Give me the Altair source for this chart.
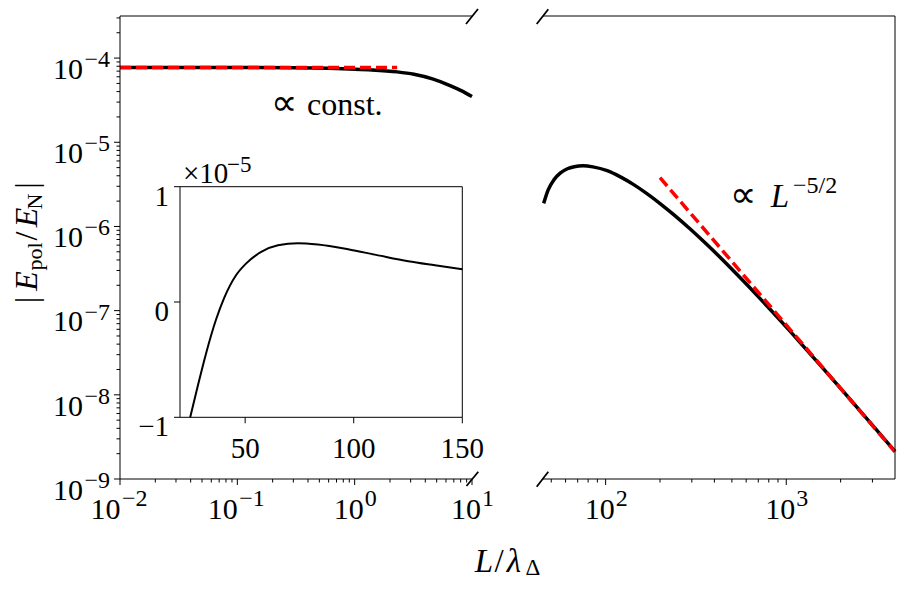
import altair as alt
import pandas as pd

FONT = "Liberation Serif"

# ---------------- data ----------------
# left panel: |E_pol/E_N| vs L/lambda for small L
left_L = [0.01, 0.03, 0.1, 0.3, 0.6, 0.9, 1.4, 2.3, 3.2, 4.6, 6.5, 8.0, 10.0]
left_E = [7.74e-5, 7.74e-5, 7.72e-5, 7.67e-5, 7.56e-5, 7.42e-5, 7.24e-5,
          6.86e-5, 6.42e-5, 5.66e-5, 4.72e-5, 4.14e-5, 3.50e-5]
left_fit_L = [0.01, 2.3]
left_fit_E = [7.74e-5, 7.74e-5]

# right panel: large L
right_L = [45.4, 48, 51.8, 56, 61.4, 67, 75, 85, 102, 120, 143, 170, 201, 240,
           295, 360, 451, 560, 689, 850, 1052, 1300, 1607, 2000, 2459, 3100, 4000]
right_E = [1.88e-6, 2.7e-6, 3.6e-6, 4.3e-6, 4.85e-6, 5.12e-6, 5.25e-6, 5.1e-6,
           4.6e-6, 3.91e-6, 3.14e-6, 2.44e-6, 1.86e-6, 1.363e-6, 9.25e-7, 6.22e-7,
           3.89e-7, 2.42e-7, 1.52e-7, 9.36e-8, 5.66e-8, 3.40e-8, 2.03e-8, 1.19e-8,
           7.14e-9, 4.02e-9, 2.13e-9]
right_fit_L = [200, 4000]
right_fit_E = [3.8e-6, 2.1e-9]

# inset: signed E_pol/E_N (linear)
inset_L = [24.7, 28.1, 32.0, 36.6, 40.4, 45.8, 50.5, 57.4, 65.1, 74.3, 83.5,
           97.4, 109.7, 125.1, 137.4, 150.0]
inset_E = [-1.0e-5, -0.735e-5, -0.446e-5, -0.152e-5, 0.038e-5, 0.232e-5,
           0.335e-5, 0.435e-5, 0.493e-5, 0.510e-5, 0.498e-5, 0.457e-5,
           0.411e-5, 0.353e-5, 0.318e-5, 0.284e-5]

# axes: domains, ticks, tick labels
left_xdomain = [0.01, 10]
right_xdomain = [45, 4000]
y_domain = [1e-9, 10 ** -3.5]
inset_xdomain = [20, 150]
inset_ydomain = [-1e-5, 1e-5]

left_xticks = [0.01, 0.1, 1, 10]
left_xexp = ["\u22122", "\u22121", "0", "1"]
right_xticks = [100, 1000]
right_xexp = ["2", "3"]
y_ticks = [1e-9, 1e-8, 1e-7, 1e-6, 1e-5, 1e-4]
y_exp = ["\u22129", "\u22128", "\u22127", "\u22126", "\u22125", "\u22124"]
inset_xticks = [50, 100, 150]
inset_xlabels = ["50", "100", "150"]
inset_yticks = [-1e-5, 0, 1e-5]
inset_ylabels = ["\u22121", "0", "1"]

left_xminor = [m * 10.0 ** e for e in (-2, -1, 0) for m in range(2, 10)]
right_xminor = [50, 60, 70, 80, 90] + [m * 100 for m in range(2, 10)] + [2000, 3000]
y_minor = [m * 10.0 ** e for e in range(-9, -4) for m in range(2, 10)] + [2e-4, 3e-4]

# ---------------- layout ----------------
W, H = 775, 463
PW = 352           # width of each panel
RX0 = 423          # right panel start
IX0, IX1 = 60, 342.3      # inset left/right (px)
IY0, IY1 = 401.3, 170.7   # inset bottom/top (px)

left_x = alt.Scale(type="log", domain=left_xdomain, range=[0, PW], nice=False)
right_x = alt.Scale(type="log", domain=right_xdomain, range=[RX0, W], nice=False)
y_main = alt.Scale(type="log", domain=y_domain, nice=False)
inset_x = alt.Scale(domain=inset_xdomain, range=[IX0, IX1], nice=False, zero=False)
inset_y = alt.Scale(domain=inset_ydomain, range=[IY0, IY1], nice=False, zero=False)

one = pd.DataFrame({"a": [0]})


def txt(s, x, y, size=30, italic=False, angle=0, align="left", baseline="alphabetic"):
    return alt.Chart(one).mark_text(
        text=s, font=FONT, fontSize=size, fontStyle="italic" if italic else "normal",
        angle=angle, align=align, baseline=baseline, color="black"
    ).encode(x=alt.value(x), y=alt.value(y))


def rule(x, x2, y, y2, w=1.0):
    return alt.Chart(one).mark_rule(color="black", strokeWidth=w).encode(
        x=alt.value(x), x2=alt.value(x2), y=alt.value(y), y2=alt.value(y2))


def xticks(values, scale, length):
    return alt.Chart(pd.DataFrame({"v": values})).mark_rule(color="black", strokeWidth=1).encode(
        x=alt.X("v:Q", scale=scale, axis=None), y=alt.value(H), y2=alt.value(H + length))


def yticks(values, scale, length):
    return alt.Chart(pd.DataFrame({"v": values})).mark_rule(color="black", strokeWidth=1).encode(
        y=alt.Y("v:Q", scale=scale, axis=None), x=alt.value(0), x2=alt.value(-length))


def xlabels(values, exps, scale):
    """'10' + superscript exponent, centred under each tick"""
    df = pd.DataFrame({"v": values, "e": exps})
    out = []
    for neg, d10, dsup in ((True, 0.5, 2.0), (False, 9, 10)):
        flt = "datum.v < 1" if neg else "datum.v >= 1"
        base = alt.Chart(df).transform_filter(flt).mark_text(
            text="10", font=FONT, fontSize=30, align="right", dx=d10, color="black"
        ).encode(x=alt.X("v:Q", scale=scale, axis=None), y=alt.value(H + 31))
        sup = alt.Chart(df).transform_filter(flt).mark_text(
            font=FONT, fontSize=24, align="left", dx=dsup, color="black"
        ).encode(x=alt.X("v:Q", scale=scale, axis=None), y=alt.value(H + 20), text="e:N")
        out += [base, sup]
    return out


def ylabels(values, exps, scale):
    df = pd.DataFrame({"v": values, "e": exps})
    base = alt.Chart(df).mark_text(
        text="10", font=FONT, fontSize=30, align="right", dy=11.7, color="black"
    ).encode(y=alt.Y("v:Q", scale=scale, axis=None), x=alt.value(-37))
    sup = alt.Chart(df).mark_text(
        font=FONT, fontSize=24, align="right", dy=2, color="black"
    ).encode(y=alt.Y("v:Q", scale=scale, axis=None), x=alt.value(-10), text="e:N")
    return [base, sup]


# ---------------- left panel ----------------
df_left = pd.DataFrame({"L": left_L, "E": left_E})
df_left_fit = pd.DataFrame({"L": left_fit_L, "E": left_fit_E})
left_curve = alt.Chart(df_left).mark_line(
    color="black", strokeWidth=3.5, interpolate="monotone", strokeCap="butt"
).encode(x=alt.X("L:Q", scale=left_x, axis=None),
         y=alt.Y("E:Q", scale=y_main, axis=None))
left_fit = alt.Chart(df_left_fit).mark_line(
    color="#ff0000", strokeWidth=3.5, strokeDash=[11, 5]
).encode(x=alt.X("L:Q", scale=left_x, axis=None),
         y=alt.Y("E:Q", scale=y_main, axis=None))
left_group = alt.layer(
    left_curve, left_fit,
    xticks(left_xticks, left_x, 6), xticks(left_xminor, left_x, 3.5),
    yticks(y_ticks, y_main, 6), yticks(y_minor, y_main, 3.5),
    *xlabels(left_xticks, left_xexp, left_x),
    *ylabels(y_ticks, y_exp, y_main),
)

# ---------------- right panel ----------------
df_right = pd.DataFrame({"L": right_L, "E": right_E})
df_right_fit = pd.DataFrame({"L": right_fit_L, "E": right_fit_E})
right_curve = alt.Chart(df_right).mark_line(
    color="black", strokeWidth=3.5, interpolate="monotone", strokeCap="butt"
).encode(x=alt.X("L:Q", scale=right_x, axis=None),
         y=alt.Y("E:Q", scale=y_main, axis=None))
right_fit = alt.Chart(df_right_fit).mark_line(
    color="#ff0000", strokeWidth=3.5, strokeDash=[11, 5]
).encode(x=alt.X("L:Q", scale=right_x, axis=None),
         y=alt.Y("E:Q", scale=y_main, axis=None))
right_group = alt.layer(
    right_curve, right_fit,
    xticks(right_xticks, right_x, 6), xticks(right_xminor, right_x, 3.5),
    *xlabels(right_xticks, right_xexp, right_x),
)

# ---------------- inset ----------------
df_frame = pd.DataFrame({"x0": [inset_xdomain[0]], "x1": [inset_xdomain[1]],
                         "y0": [inset_ydomain[0]], "y1": [inset_ydomain[1]]})
inset_frame = alt.Chart(df_frame).mark_rect(fill="white", stroke="black", strokeWidth=1).encode(
    x=alt.X("x0:Q", scale=inset_x, axis=None), x2="x1:Q",
    y=alt.Y("y0:Q", scale=inset_y, axis=None), y2="y1:Q")
df_inset = pd.DataFrame({"L": inset_L, "E": inset_E})
inset_curve = alt.Chart(df_inset).mark_line(
    color="black", strokeWidth=2, interpolate="monotone"
).encode(x=alt.X("L:Q", scale=inset_x, axis=None),
         y=alt.Y("E:Q", scale=inset_y, axis=None))
df_ix = pd.DataFrame({"v": inset_xticks, "t": inset_xlabels})
df_iy = pd.DataFrame({"v": inset_yticks, "t": inset_ylabels})
inset_xt = alt.Chart(df_ix).mark_rule(color="black", strokeWidth=1).encode(
    x=alt.X("v:Q", scale=inset_x, axis=None), y=alt.value(IY0), y2=alt.value(IY0 + 6))
inset_yt = alt.Chart(df_iy).mark_rule(color="black", strokeWidth=1).encode(
    y=alt.Y("v:Q", scale=inset_y, axis=None), x=alt.value(IX0), x2=alt.value(IX0 - 6))
inset_xl = alt.Chart(df_ix).mark_text(font=FONT, fontSize=29, align="center", color="black").encode(
    x=alt.X("v:Q", scale=inset_x, axis=None), y=alt.value(IY0 + 32), text="t:N")
inset_yl = alt.Chart(df_iy).mark_text(font=FONT, fontSize=29, align="right", dy=10, color="black").encode(
    y=alt.Y("v:Q", scale=inset_y, axis=None), x=alt.value(IX0 - 11), text="t:N")
inset_group = alt.layer(inset_frame, inset_curve, inset_xt, inset_yt, inset_xl, inset_yl)

# ---------------- spines and break marks ----------------
decor = [
    rule(0, 0, 0, H),                  # left panel: left spine
    rule(0, PW, H, H),                 # left panel: bottom spine
    rule(0, PW, 0, 0),                 # left panel: top spine
    rule(RX0, W, H, H),                # right panel: bottom spine
    rule(RX0, W, 0, 0),                # right panel: top spine
    rule(W, W, 0, H),                  # right panel: right spine
    rule(346, 358, 8, -7, 1.8),        # break marks
    rule(346.5, 358.3, 470, 455.7, 1.8),
    rule(416.7, 428.3, 8, -6.7, 1.8),
    rule(416.7, 428.3, 470.7, 455.7, 1.8),
]

# ---------------- annotations and titles ----------------
texts = [
    txt("\u221d", 164, 99, size=37, align="center"),
    txt("const.", 187, 99, size=32),
    txt("\u221d", 622.5, 191, size=37, align="center"),
    txt("L", 660, 191, size=33, italic=True, align="center"),
    txt("\u22125/2", 673, 177, size=24),
    txt("\u00d710", 63, 167, size=29),
    txt("\u22125", 107, 156, size=23),
    # x title  L / lambda_Delta
    txt("L", 364, 556, size=33, italic=True, align="center"),
    txt("/", 379, 556, size=33, align="center"),
    txt("\u03bb", 394, 556, size=33, italic=True, align="center"),
    txt("\u0394", 413, 559, size=23, align="center"),
    # y title |E_pol / E_N|
    txt("|", -83, 284, size=31, angle=270, align="center"),
    txt("E", -83, 265, size=32, italic=True, angle=270, align="center"),
    txt("pol", -78, 240.5, size=22, angle=270, align="center"),
    txt("/", -83, 220, size=32, angle=270, align="center"),
    txt("E", -83, 201.5, size=32, italic=True, angle=270, align="center"),
    txt("N", -78, 185.5, size=22, angle=270, align="center"),
    txt("|", -83, 169.5, size=31, angle=270, align="center"),
]

chart = alt.layer(left_group, right_group, inset_group, *decor, *texts).resolve_scale(
    x="independent", y="independent"
).properties(
    width=W, height=H,
    autosize=alt.AutoSizeParams(type="none"),
    padding={"left": 112, "top": 8, "right": 6, "bottom": 104},
    background="white",
).configure_view(stroke=None)

chart.save("out.html", embed_options={"renderer": "svg", "actions": False})
